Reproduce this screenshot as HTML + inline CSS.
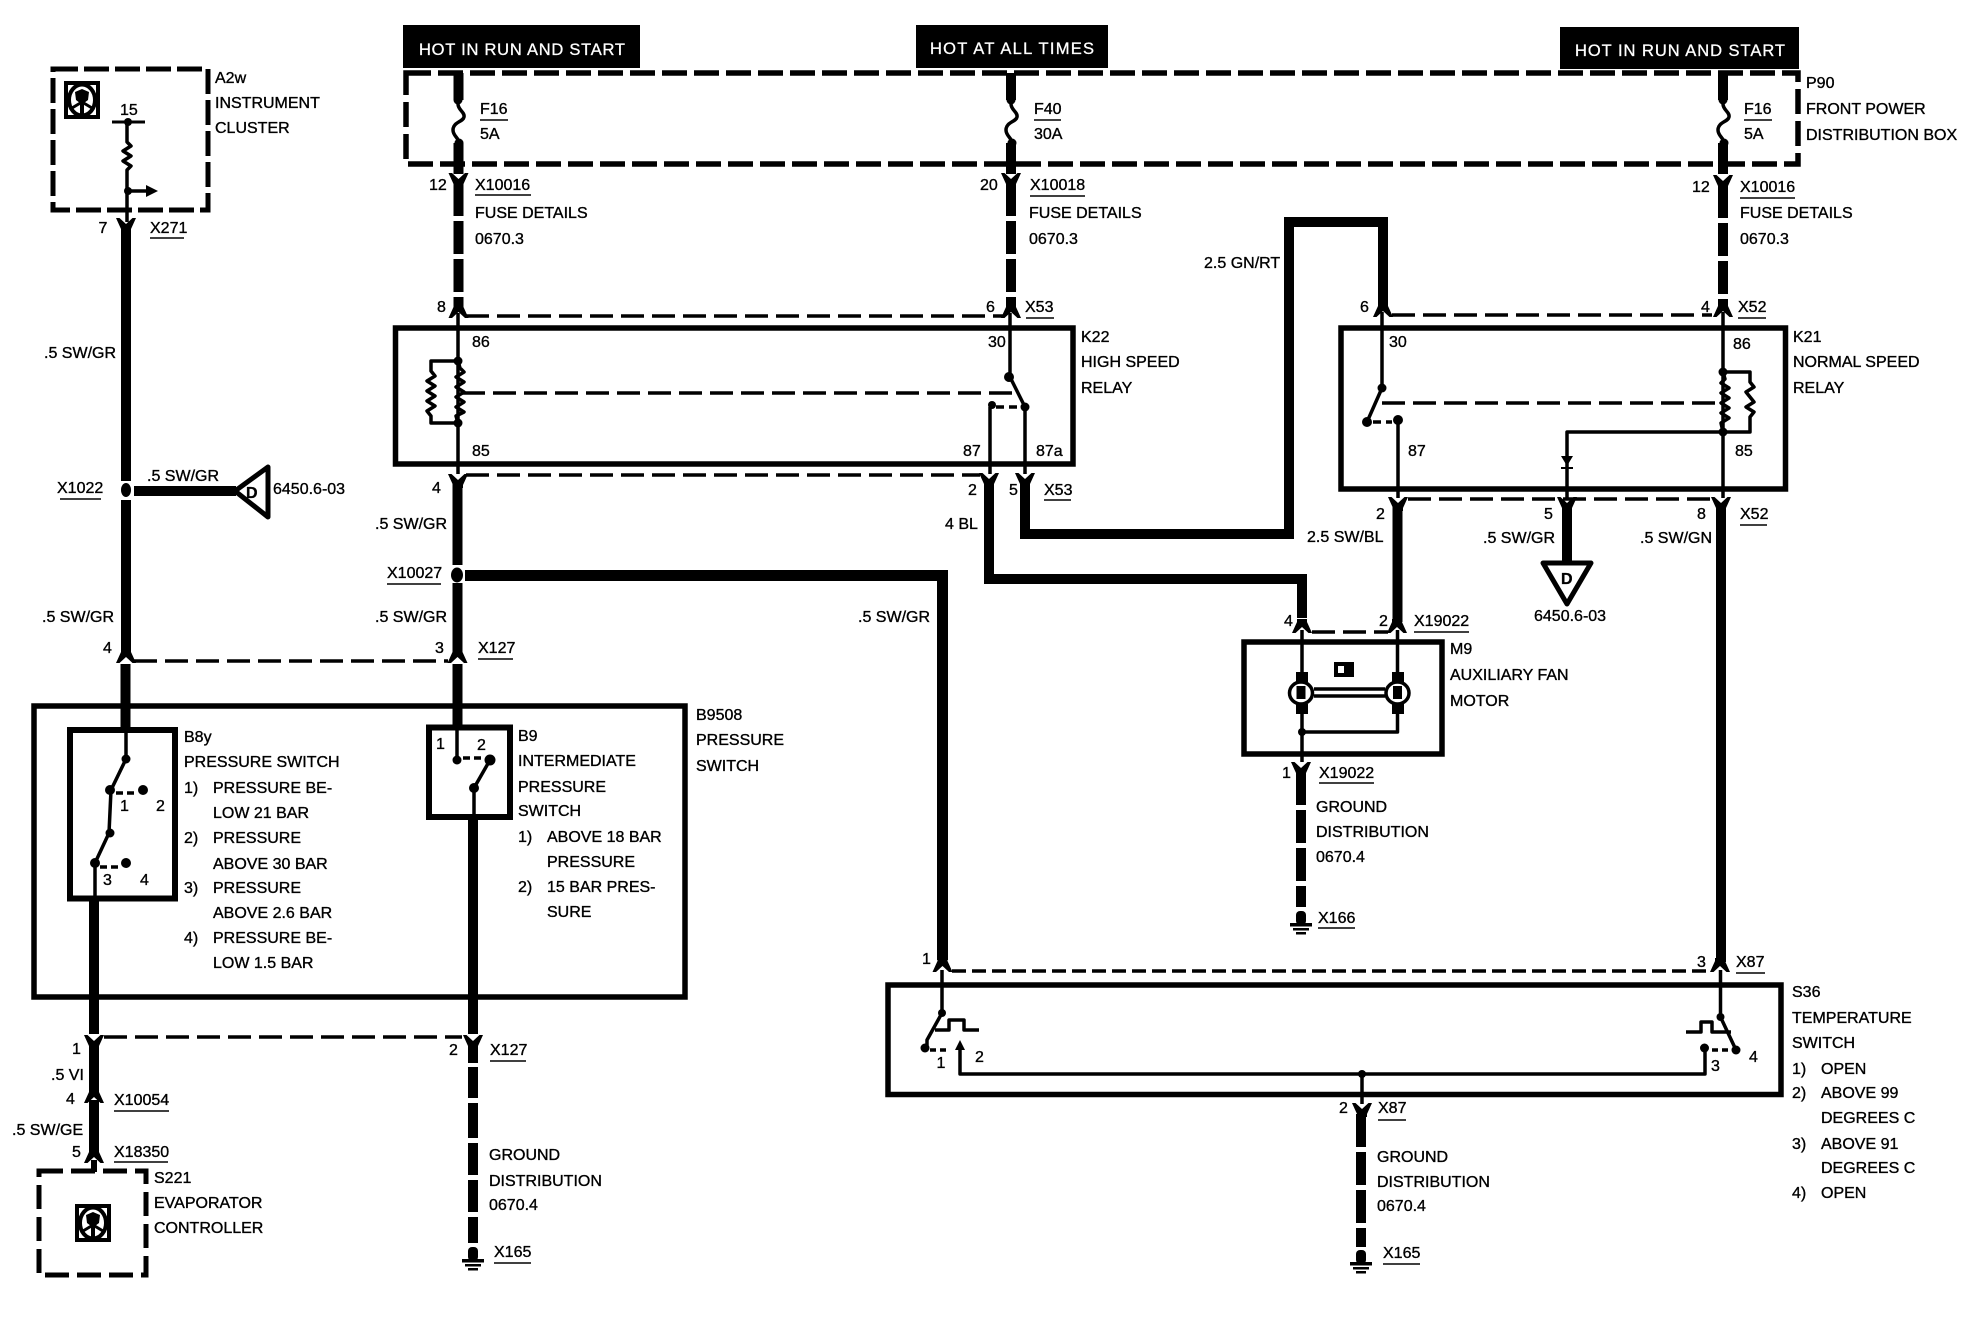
<!DOCTYPE html>
<html><head><meta charset="utf-8"><style>
html,body{margin:0;padding:0;background:#fff}
svg{display:block}
text{font-family:"Liberation Sans",sans-serif;font-size:16px;fill:#000;stroke:#000;stroke-width:.35}
.h{fill:#fff;stroke:#fff;font-size:16.5px;stroke-width:.3}
.w{stroke:#000;stroke-width:10;fill:none}
.wd{stroke:#000;stroke-width:10;fill:none;stroke-dasharray:33 5}
.t{stroke:#000;stroke-width:3.5;fill:none;stroke-linejoin:round}
.d{stroke:#000;stroke-width:3.5;fill:none;stroke-dasharray:23 8}
.b{stroke:#000;stroke-width:5.5;fill:none}
.u{stroke:#000;stroke-width:1.6}
</style></head><body>
<svg width="1984" height="1328" viewBox="0 0 1984 1328" xmlns="http://www.w3.org/2000/svg">
<defs>
<polygon id="y" points="-10,-5 -6.5,-5 0,1 6.5,-5 10,-5 5,6 5,9 -5,9 -5,6" fill="#000"/>
<g id="gnd"><rect x="-5" y="0" width="10" height="14" rx="4" fill="#000"/><rect x="-11" y="12" width="22" height="3.5" fill="#000"/><rect x="-8" y="17" width="16" height="2.5" fill="#000"/><rect x="-5" y="21" width="10" height="2.5" fill="#000"/></g>
<g id="fuse"><path d="M0 0 L0 4 C0 10 7 12 6 17 C5 22 -5 22 -5 30 C-5 36 1 38 1 43" class="t"/><circle cx="0" cy="0" r="4.5" fill="#000"/><circle cx="1" cy="43" r="4.5" fill="#000"/></g>
<g id="ico"><rect x="2" y="2" width="32" height="34" fill="#fff" stroke="#000" stroke-width="4"/><ellipse cx="18" cy="19" rx="13" ry="15.5" fill="none" stroke="#000" stroke-width="4"/><path d="M11 11 L18 8 L25 11 L24 19 L20 22 L20 33 L16 33 L16 22 L12 19Z" fill="#000"/><path d="M18 21 L8 27 M18 21 L28 27" stroke="#000" stroke-width="3"/></g>
</defs>

<!-- top labels -->
<rect x="403" y="25" width="237" height="43" fill="#000"/>
<rect x="916" y="25" width="192" height="43" fill="#000"/>
<rect x="1560" y="27" width="239" height="42" fill="#000"/>
<text class="h" x="419" y="55" textLength="206">HOT IN RUN AND START</text>
<text class="h" x="930" y="54" textLength="164">HOT AT ALL TIMES</text>
<text class="h" x="1575" y="56" textLength="210">HOT IN RUN AND START</text>

<!-- dashed modules -->
<rect x="406" y="73" width="1392" height="91" fill="none" stroke="#000" stroke-width="5.5" stroke-dasharray="25 7"/>
<rect x="53" y="69" width="155" height="141" fill="none" stroke="#000" stroke-width="5" stroke-dasharray="25 6"/>
<rect x="39" y="1171" width="107" height="104" fill="none" stroke="#000" stroke-width="5" stroke-dasharray="24 8"/>

<!-- boxes -->
<rect class="b" x="395.5" y="328" width="677.5" height="136"/>
<rect class="b" x="1341" y="328" width="444.5" height="161"/>
<rect class="b" x="1244" y="642" width="198" height="112"/>
<rect class="b" x="34" y="706" width="651" height="291"/>
<rect x="70" y="730" width="105" height="168.5" fill="none" stroke="#000" stroke-width="6"/>
<rect x="429" y="727.5" width="81" height="89.5" fill="none" stroke="#000" stroke-width="6"/>
<rect class="b" x="888" y="985" width="893" height="109.5"/>

<!-- A2w -->
<use href="#ico" x="64" y="81"/>
<path class="b" d="M112 122 H145" style="stroke-width:3"/>
<circle cx="128" cy="122" r="4" fill="#000"/>
<polyline class="t" points="127,122 127,142 131,146 123,151 131,156 123,161 131,166 127,170 127,222"/>
<path class="t" d="M127 191 H148"/>
<path d="M146 185 L158 191 L146 197Z" fill="#000"/><circle cx="128" cy="191" r="4" fill="#000"/>
<path class="w" d="M126 228 V481 M126 500 V656"/>
<use href="#y" x="126" y="223"/>
<ellipse cx="126" cy="490" rx="5" ry="7" fill="#000"/>
<path class="w" d="M134 491 H236"/>
<path d="M235 491 L268 467 V517Z" fill="#fff" stroke="#000" stroke-width="5" stroke-linejoin="round"/>
<text x="246" y="498" font-weight="bold">D</text>

<!-- column 458 -->
<path class="w" d="M458.5 73 V100 M458.5 143 V174"/>
<use href="#fuse" x="458" y="100"/>
<path class="wd" d="M458.5 183 V306" stroke-dashoffset="0"/>
<use href="#y" x="458.5" y="178"/>
<use href="#y" transform="translate(458.5 313) scale(1 -1)"/>
<path class="t" d="M458 313 V474"/>
<circle cx="458" cy="361" r="4.5" fill="#000"/><circle cx="458" cy="423" r="4.5" fill="#000"/>
<polyline class="t" points="458,361 460,368 464,372 456,377 464,382 456,387 464,392 456,397 464,402 456,407 464,412 456,416 458,423"/>
<polyline class="t" points="458,361 431,361 431,371 435,376 427,381 435,386 427,391 435,396 427,401 435,406 427,411 431,416 431,423 458,423"/>
<path class="d" d="M462 393 H1016"/>
<path class="d" d="M466 316 H1003"/>
<path class="d" d="M466 475 H980"/>
<use href="#y" x="458" y="479"/>
<path class="w" d="M457.5 484 V565"/>
<ellipse cx="457" cy="575" rx="6" ry="7.5" fill="#000"/>
<path class="w" d="M457.5 583 V654"/>
<use href="#y" transform="translate(457.5 658) scale(1 -1)"/>
<path class="d" d="M134 661 H448"/>
<use href="#y" transform="translate(126 658) scale(1 -1)"/>

<!-- .5 SW/GR long -->
<path d="M465 575.5 H942.5 V960" stroke="#000" stroke-width="11" fill="none"/>
<use href="#y" transform="translate(942.5 967) scale(1 -1)"/>

<!-- column 1011 -->
<path class="w" d="M1011 73 V100 M1011 143 V174"/>
<use href="#fuse" x="1011" y="100"/>
<path class="wd" d="M1011 183 V306"/>
<use href="#y" x="1011" y="178"/>
<use href="#y" transform="translate(1011 313) scale(1 -1)"/>
<path class="t" d="M1010 313 V377 L1025 407 V474"/>
<circle cx="1009" cy="377" r="5" fill="#000"/><circle cx="1025" cy="407" r="4.5" fill="#000"/><circle cx="992" cy="405" r="4" fill="#000"/>
<path class="t" d="M990 474 V407"/>
<path class="t" d="M996 407 H1020" stroke-dasharray="8 5"/>

<!-- below K22 -->
<use href="#y" x="989" y="478"/>
<use href="#y" x="1025" y="478"/>
<path d="M989 484 V579 H1302 V618" stroke="#000" stroke-width="10" fill="none"/>
<path d="M1025 484 V534 H1289 V222 H1383 V306" stroke="#000" stroke-width="10" fill="none"/>
<use href="#y" transform="translate(1383 312) scale(1 -1)"/>

<!-- K21 -->
<path class="t" d="M1382 312 V388 L1367 422"/>
<circle cx="1382" cy="388" r="4.5" fill="#000"/><circle cx="1367" cy="422" r="5" fill="#000"/><circle cx="1398" cy="420" r="5" fill="#000"/>
<path class="t" d="M1373 422 H1392" stroke-dasharray="8 5"/>
<path class="t" d="M1398 420 V498"/>
<path class="d" d="M1392 315 H1712"/>
<path class="d" d="M1382 403 H1718"/>
<path class="d" d="M1408 499 H1712"/>

<!-- column 1723 -->
<path class="w" d="M1723 73 V100 M1723 143 V174"/>
<use href="#fuse" x="1723" y="100"/>
<path class="wd" d="M1723 185 V306"/>
<use href="#y" x="1723" y="180"/>
<use href="#y" transform="translate(1723 312) scale(1 -1)"/>
<path class="t" d="M1723 312 V498"/>
<circle cx="1723" cy="372" r="4.5" fill="#000"/><circle cx="1723" cy="432" r="4.5" fill="#000"/>
<polyline class="t" points="1723,372 1725,379 1721,383 1729,388 1721,393 1729,398 1721,403 1729,408 1721,413 1729,418 1721,423 1723,432"/>
<polyline class="t" points="1723,372 1750,372 1750,382 1754,387 1746,392 1750,397 1754,402 1746,407 1754,412 1750,417 1750,432 1723,432"/>
<path class="t" d="M1723 432 H1567 V498"/>
<path d="M1561 456 H1573 L1567 466Z M1561 467 H1573 V469 H1561Z" fill="#000"/>

<!-- below K21 -->
<use href="#y" x="1398" y="502"/>
<use href="#y" x="1567" y="502"/>
<use href="#y" x="1721" y="502"/>
<path class="w" d="M1397.5 507 V622"/>
<path class="w" d="M1567 507 V562"/>
<path class="w" d="M1721 507 V962"/>
<path d="M1543 563 H1591 L1567 604Z" fill="#fff" stroke="#000" stroke-width="5" stroke-linejoin="round"/>
<text x="1561" y="584" font-weight="bold">D</text>

<!-- M9 -->
<use href="#y" transform="translate(1302 628) scale(1 -1)"/>
<use href="#y" transform="translate(1397 628) scale(1 -1)"/>
<path class="d" d="M1312 632 H1388"/>
<path class="t" d="M1302 630 V680 M1302 706 V762"/>
<path class="t" d="M1397.5 630 V680 M1397.5 706 V732 H1302"/>
<circle cx="1302" cy="732" r="4" fill="#000"/>
<rect x="1296" y="672" width="12" height="10" fill="#000"/><rect x="1296" y="704" width="12" height="10" fill="#000"/>
<rect x="1392" y="672" width="12" height="10" fill="#000"/><rect x="1392" y="704" width="12" height="10" fill="#000"/>
<path class="t" d="M1314 689 H1385 M1314 696 H1385"/>
<ellipse cx="1301" cy="693" rx="11.5" ry="11" fill="#fff" stroke="#000" stroke-width="3.5"/>
<ellipse cx="1397.5" cy="693" rx="11.5" ry="11" fill="#fff" stroke="#000" stroke-width="3.5"/>
<rect x="1296.5" y="686" width="9" height="13" fill="#000"/><rect x="1393" y="686" width="9" height="13" fill="#000"/>
<rect x="1334" y="662" width="20" height="15" fill="#000"/><rect x="1338" y="666" width="6" height="7" fill="#fff"/>
<use href="#y" x="1301" y="767"/>
<path class="wd" d="M1301 772 V907" stroke-dasharray="27 5 33 5 33 5 28"/>
<use href="#gnd" x="1301" y="911"/>

<!-- B8y -->
<path class="w" d="M125.5 664 V730"/>
<path class="t" d="M126 730 V759 L111 790 L109 833 L95 863 V899"/>
<circle cx="126" cy="759" r="4.5" fill="#000"/><circle cx="110" cy="790" r="5" fill="#000"/><circle cx="143" cy="790" r="5" fill="#000"/><circle cx="110" cy="833" r="4.5" fill="#000"/><circle cx="95" cy="863" r="5" fill="#000"/><circle cx="126" cy="863" r="5" fill="#000"/>
<path class="t" d="M116 793 H138 M100 867 H121" stroke-dasharray="7 4"/>
<path class="w" d="M94 899 V1034"/>
<use href="#y" x="94" y="1040"/>
<path class="w" d="M94 1046 V1094 M94 1100 V1152"/>
<use href="#y" transform="translate(94 1098) scale(1 -1)"/>
<use href="#y" transform="translate(94 1158) scale(1 -1)"/>
<path stroke="#000" stroke-width="6" d="M94 1160 V1172"/>

<!-- B9 -->
<path class="w" d="M457.5 664 V728"/>
<path class="t" d="M457 728 V760"/><circle cx="457" cy="760" r="4.5" fill="#000"/>
<path class="t" d="M463 758 H484" stroke-dasharray="7 4"/>
<path class="t" d="M490 760 L474 788 V818"/><circle cx="490" cy="760" r="5.5" fill="#000"/><circle cx="474" cy="788" r="5" fill="#000"/>
<path class="w" d="M473 816 V1034"/>
<use href="#y" x="473" y="1040"/>
<path class="d" d="M104 1037 H462"/>
<path class="w" d="M473 1046 V1243" stroke-dasharray="17 4 31 5 35 5 32 5 32 5 26"/>
<use href="#gnd" x="473" y="1247"/>

<!-- S36 -->
<path class="d" d="M952 971 H1710" style="stroke-dasharray:14 6"/>
<use href="#y" transform="translate(1720 967) scale(1 -1)"/>
<path class="t" d="M942 970 V1013 L927 1040 V1046"/>
<circle cx="942" cy="1013" r="4" fill="#000"/><circle cx="925" cy="1048" r="4.5" fill="#000"/>
<path class="t" d="M930 1050 H950" stroke-dasharray="6 4"/>
<polyline class="t" points="935,1030 949,1030 949,1020 964,1020 964,1030 979,1030"/>
<path class="t" d="M960 1045 V1074 H1705 V1050"/>
<path d="M955 1050 L960 1040 L965 1050Z" fill="#000"/>
<circle cx="1704.5" cy="1048" r="4.5" fill="#000"/>
<path class="t" d="M1720.5 970 V1017 L1736 1050"/>
<circle cx="1720.5" cy="1017" r="4" fill="#000"/><circle cx="1736" cy="1050" r="4.5" fill="#000"/>
<path class="t" d="M1712 1050 H1730" stroke-dasharray="6 4"/>
<polyline class="t" points="1686,1032 1701,1032 1701,1022 1712,1022 1712,1032 1731,1032"/>
<circle cx="1362" cy="1074" r="4" fill="#000"/>
<path class="t" d="M1362 1074 V1104"/>
<use href="#y" x="1362" y="1108"/>
<path class="wd" d="M1361 1114 V1247" stroke-dasharray="24 5 38 5 35 5 24"/>
<use href="#gnd" x="1361" y="1250"/>

<!-- text left -->
<text x="215" y="83">A2w</text><text x="215" y="108">INSTRUMENT</text><text x="215" y="133">CLUSTER</text>
<text x="120" y="115">15</text><text x="103" y="233" text-anchor="middle">7</text>
<text x="150" y="233">X271</text><line class="u" x1="150" x2="184" y1="238" y2="238"/>
<text x="44" y="358">.5 SW/GR</text>
<text x="147" y="481">.5 SW/GR</text>
<text x="57" y="493">X1022</text><line class="u" x1="60" x2="101" y1="499" y2="499"/>
<text x="273" y="494">6450.6-03</text>
<text x="42" y="622">.5 SW/GR</text>
<text x="103" y="653">4</text>

<text x="480" y="114">F16</text><line class="u" x1="480" x2="508" y1="120" y2="120"/><text x="480" y="139">5A</text>
<text x="429" y="190">12</text>
<text x="475" y="190">X10016</text><line class="u" x1="475" x2="531" y1="195" y2="195"/>
<text x="475" y="218">FUSE DETAILS</text><text x="475" y="244">0670.3</text>
<text x="437" y="312">8</text>
<text x="472" y="347">86</text><text x="472" y="456">85</text>
<text x="432" y="493">4</text>
<text x="375" y="529">.5 SW/GR</text>
<text x="387" y="578">X10027</text><line class="u" x1="387" x2="441" y1="584" y2="584"/>
<text x="375" y="622">.5 SW/GR</text>
<text x="435" y="653">3</text>
<text x="478" y="653">X127</text><line class="u" x1="478" x2="513" y1="659" y2="659"/>

<!-- B9508 texts -->
<text x="696" y="720">B9508</text><text x="696" y="745">PRESSURE</text><text x="696" y="771">SWITCH</text>
<text x="184" y="742">B8y</text><text x="184" y="767">PRESSURE SWITCH</text>
<text x="184" y="793">1)</text><text x="213" y="793">PRESSURE BE-</text><text x="213" y="818">LOW 21 BAR</text>
<text x="184" y="843">2)</text><text x="213" y="843">PRESSURE</text><text x="213" y="869">ABOVE 30 BAR</text>
<text x="184" y="893">3)</text><text x="213" y="893">PRESSURE</text><text x="213" y="918">ABOVE 2.6 BAR</text>
<text x="184" y="943">4)</text><text x="213" y="943">PRESSURE BE-</text><text x="213" y="968">LOW 1.5 BAR</text>
<text x="120" y="811">1</text><text x="156" y="811">2</text><text x="103" y="885">3</text><text x="140" y="885">4</text>
<text x="436" y="749">1</text><text x="477" y="750">2</text>
<text x="518" y="741">B9</text><text x="518" y="766">INTERMEDIATE</text><text x="518" y="792">PRESSURE</text><text x="518" y="816">SWITCH</text>
<text x="518" y="842">1)</text><text x="547" y="842">ABOVE 18 BAR</text><text x="547" y="867">PRESSURE</text>
<text x="518" y="892">2)</text><text x="547" y="892">15 BAR PRES-</text><text x="547" y="917">SURE</text>

<!-- bottom left -->
<text x="72" y="1054">1</text><text x="449" y="1055">2</text>
<text x="490" y="1055">X127</text><line class="u" x1="490" x2="526" y1="1061" y2="1061"/>
<text x="51" y="1080">.5 VI</text>
<text x="66" y="1104">4</text>
<text x="114" y="1105">X10054</text><line class="u" x1="114" x2="169" y1="1111" y2="1111"/>
<text x="12" y="1135">.5 SW/GE</text>
<text x="72" y="1157">5</text>
<text x="114" y="1157">X18350</text><line class="u" x1="114" x2="168" y1="1162" y2="1162"/>
<text x="154" y="1183">S221</text><text x="154" y="1208">EVAPORATOR</text><text x="154" y="1233">CONTROLLER</text>
<use href="#ico" x="75" y="1204"/>
<text x="489" y="1160">GROUND</text><text x="489" y="1186">DISTRIBUTION</text><text x="489" y="1210">0670.4</text>
<text x="494" y="1257">X165</text><line class="u" x1="494" x2="531" y1="1263" y2="1263"/>

<!-- middle text -->
<text x="1034" y="114">F40</text><line class="u" x1="1034" x2="1061" y1="120" y2="120"/><text x="1034" y="139">30A</text>
<text x="980" y="190">20</text>
<text x="1030" y="190">X10018</text><line class="u" x1="1030" x2="1085" y1="196" y2="196"/>
<text x="1029" y="218">FUSE DETAILS</text><text x="1029" y="244">0670.3</text>
<text x="986" y="312">6</text>
<text x="1025" y="312">X53</text><line class="u" x1="1026" x2="1054" y1="318" y2="318"/>
<text x="988" y="347">30</text>
<text x="963" y="456">87</text><text x="1036" y="456">87a</text>
<text x="1081" y="342">K22</text><text x="1081" y="367">HIGH SPEED</text><text x="1081" y="393">RELAY</text>
<text x="968" y="495">2</text><text x="1009" y="495">5</text>
<text x="1044" y="495">X53</text><line class="u" x1="1044" x2="1071" y1="500" y2="500"/>
<text x="945" y="529">4 BL</text>
<text x="858" y="622">.5 SW/GR</text>
<text x="1204" y="268">2.5 GN/RT</text>
<text x="1360" y="312">6</text>
<text x="1389" y="347">30</text><text x="1408" y="456">87</text>
<text x="1307" y="542">2.5 SW/BL</text>
<text x="1376" y="519">2</text>
<text x="1544" y="519">5</text>
<text x="1483" y="543">.5 SW/GR</text>
<text x="1534" y="621">6450.6-03</text>
<text x="1640" y="543">.5 SW/GN</text>
<text x="1697" y="519">8</text>
<text x="1740" y="519">X52</text><line class="u" x1="1740" x2="1767" y1="525" y2="525"/>
<text x="1284" y="626">4</text><text x="1379" y="626">2</text>
<text x="1414" y="626">X19022</text><line class="u" x1="1414" x2="1469" y1="632" y2="632"/>
<text x="1450" y="654">M9</text><text x="1450" y="680">AUXILIARY FAN</text><text x="1450" y="706">MOTOR</text>
<text x="1282" y="778">1</text>
<text x="1319" y="778">X19022</text><line class="u" x1="1319" x2="1374" y1="783" y2="783"/>
<text x="1316" y="812">GROUND</text><text x="1316" y="837">DISTRIBUTION</text><text x="1316" y="862">0670.4</text>
<text x="1318" y="923">X166</text><line class="u" x1="1318" x2="1355" y1="928" y2="928"/>

<!-- right text -->
<text x="1744" y="114">F16</text><line class="u" x1="1744" x2="1772" y1="120" y2="120"/><text x="1744" y="139">5A</text>
<text x="1806" y="88">P90</text><text x="1806" y="114">FRONT POWER</text><text x="1806" y="140">DISTRIBUTION BOX</text>
<text x="1692" y="192">12</text>
<text x="1740" y="192">X10016</text><line class="u" x1="1740" x2="1795" y1="198" y2="198"/>
<text x="1740" y="218">FUSE DETAILS</text><text x="1740" y="244">0670.3</text>
<text x="1701" y="312">4</text>
<text x="1738" y="312">X52</text><line class="u" x1="1738" x2="1766" y1="318" y2="318"/>
<text x="1733" y="349">86</text><text x="1735" y="456">85</text>
<text x="1793" y="342">K21</text><text x="1793" y="367">NORMAL SPEED</text><text x="1793" y="393">RELAY</text>

<!-- S36 text -->
<text x="922" y="964">1</text><text x="1697" y="967">3</text>
<text x="1736" y="967">X87</text><line class="u" x1="1736" x2="1765" y1="973" y2="973"/>
<text x="941" y="1068" text-anchor="middle">1</text><text x="975" y="1062">2</text><text x="1711" y="1071">3</text><text x="1749" y="1062">4</text>
<text x="1792" y="997">S36</text><text x="1792" y="1023">TEMPERATURE</text><text x="1792" y="1048">SWITCH</text>
<text x="1792" y="1074">1)</text><text x="1821" y="1074">OPEN</text>
<text x="1792" y="1098">2)</text><text x="1821" y="1098">ABOVE 99</text><text x="1821" y="1123">DEGREES C</text>
<text x="1792" y="1149">3)</text><text x="1821" y="1149">ABOVE 91</text><text x="1821" y="1173">DEGREES C</text>
<text x="1792" y="1198">4)</text><text x="1821" y="1198">OPEN</text>
<text x="1339" y="1113">2</text>
<text x="1378" y="1113">X87</text><line class="u" x1="1378" x2="1406" y1="1120" y2="1120"/>
<text x="1377" y="1162">GROUND</text><text x="1377" y="1187">DISTRIBUTION</text><text x="1377" y="1211">0670.4</text>
<text x="1383" y="1258">X165</text><line class="u" x1="1383" x2="1420" y1="1264" y2="1264"/>
</svg>
</body></html>
